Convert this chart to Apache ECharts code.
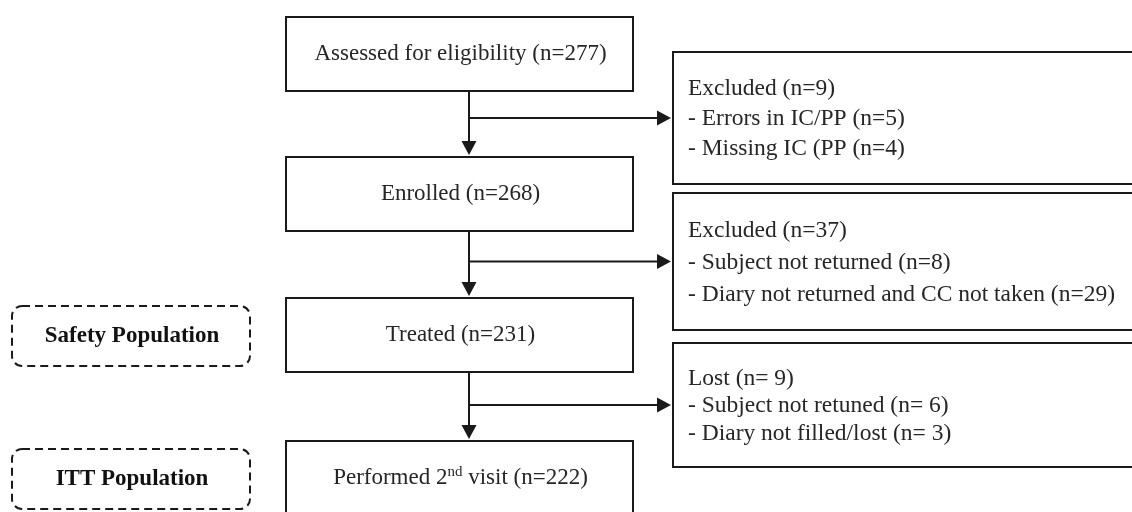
<!DOCTYPE html>
<html>
<head>
<meta charset="utf-8">
<script src="https://cdn.jsdelivr.net/npm/echarts@6/dist/echarts.min.js"></script>
<style>
html,body{margin:0;padding:0;background:#fff}
#chart{width:1132px;height:512px}
</style>
</head>
<body>
<div id="chart"></div>
<script>
// flow steps (main column)
var steps = ['Assessed for eligibility', 'Enrolled', 'Treated', 'Performed 2{sup|nd} visit'];
var stepCounts = [277, 268, 231, 222];
// side boxes: who dropped out between two steps
var exclTitles = ['Excluded (n=9)', 'Excluded (n=37)', 'Lost (n= 9)'];
var exclReasons = [
	['- Errors in IC/PP (n=5)', '- Missing IC (PP (n=4)'],
	['- Subject not returned (n=8)', '- Diary not returned and CC not taken (n=29)'],
	['- Subject not retuned (n= 6)', '- Diary not filled/lost (n= 3)']
];
// analysis populations, attached to a step row
var populations = ['Safety Population', 'ITT Population'];
var populationRows = [2, 3];

// layout in page units (axes are 0..1132 x 0..512)
var L = {
	mainX: 286, mainW: 347, boxH: 74,
	rowTop: [17, 157, 298, 441],
	spineX: 469,
	sideX: 673, sideRight: 1142,
	sideTop: [52, 193, 343], sideBottom: [184, 330, 467],
	sideLineH: [30, 32, 27.5],
	popX: 12, popW: 238, popH: 60,
	popTop: [306, 449],
	ink: '#1a1a1a',
	text: '#262626',
	font: 'Liberation Serif'
};

function rectOf(api, x0, y0, x1, y1) {
	var a = api.coord([x0, y0]);
	var b = api.coord([x1, y1]);
	return {x: a[0], y: a[1], width: b[0] - a[0], height: b[1] - a[1]};
}

function mainItem(params, api) {
	var i = params.dataIndex;
	var r = rectOf(api, L.mainX, L.rowTop[i], L.mainX + L.mainW, L.rowTop[i] + L.boxH);
	return {
		type: 'group',
		children: [
			{type: 'rect', shape: r, style: {fill: '#fff', stroke: L.ink, lineWidth: 2}},
			{type: 'text', style: {
				text: steps[i] + ' (n=' + stepCounts[i] + ')',
				x: r.x + r.width / 2 + 1, y: r.y + r.height / 2,
				align: 'center', verticalAlign: 'middle',
				fill: L.text, fontSize: 23, fontFamily: L.font,
				rich: {
					sup: {fontSize: 15, fontFamily: L.font, fill: L.text, verticalAlign: 'top', lineHeight: 27}
				}
			}}
		]
	};
}

function sideItem(params, api) {
	var i = params.dataIndex;
	var r = rectOf(api, L.sideX, L.sideTop[i], L.sideRight, L.sideBottom[i]);
	return {
		type: 'group',
		children: [
			{type: 'rect', shape: r, style: {fill: '#fff', stroke: L.ink, lineWidth: 2}},
			{type: 'text', style: {
				text: [exclTitles[i]].concat(exclReasons[i]).join('\n'),
				x: r.x + 15, y: r.y + r.height / 2 + 1,
				align: 'left', verticalAlign: 'middle',
				lineHeight: L.sideLineH[i],
				fill: L.text, fontSize: 23.5, fontFamily: L.font
			}}
		]
	};
}

function arrowItem(params, api) {
	var i = params.dataIndex;
	var top = api.coord([L.spineX, L.rowTop[i] + L.boxH]);
	var tip = api.coord([L.spineX, L.rowTop[i + 1] - 2]);
	var cy = (L.sideTop[i] + L.sideBottom[i]) / 2;
	var bStart = api.coord([L.spineX, cy]);
	var bTip = api.coord([L.sideX - 2, cy]);
	var ink = {stroke: L.ink, lineWidth: 2};
	return {
		type: 'group',
		children: [
			{type: 'line', shape: {x1: top[0], y1: top[1], x2: tip[0], y2: tip[1] - 12}, style: ink},
			{type: 'polygon', shape: {points: [[tip[0] - 7.5, tip[1] - 14], [tip[0] + 7.5, tip[1] - 14], [tip[0], tip[1]]]}, style: {fill: L.ink}},
			{type: 'line', shape: {x1: bStart[0], y1: bStart[1], x2: bTip[0] - 12, y2: bTip[1]}, style: ink},
			{type: 'polygon', shape: {points: [[bTip[0] - 14, bTip[1] - 7.5], [bTip[0] - 14, bTip[1] + 7.5], [bTip[0], bTip[1]]]}, style: {fill: L.ink}}
		]
	};
}

function popItem(params, api) {
	var i = params.dataIndex;
	var r = rectOf(api, L.popX, L.popTop[i], L.popX + L.popW, L.popTop[i] + L.popH);
	r.r = 10;
	return {
		type: 'group',
		children: [
			{type: 'rect', shape: r, style: {fill: 'none', stroke: L.ink, lineWidth: 2, lineDash: [8, 5]}},
			{type: 'text', style: {
				text: populations[i],
				x: r.x + r.width / 2 + 1, y: r.y + r.height / 2,
				align: 'center', verticalAlign: 'middle',
				fill: '#111', fontSize: 23, fontWeight: 'bold', fontFamily: L.font
			}}
		]
	};
}

var chart = echarts.init(document.getElementById('chart'));
var option = {
	animation: false,
	backgroundColor: '#fff',
	grid: {left: 0, right: 0, top: 0, bottom: 0},
	xAxis: {type: 'value', min: 0, max: 1132, show: false},
	yAxis: {type: 'value', min: 0, max: 512, inverse: true, show: false},
	series: [
		{type: 'custom', renderItem: arrowItem, data: exclTitles.map(function (t, i) { return [i, i]; })},
		{type: 'custom', renderItem: mainItem, data: steps.map(function (s, i) { return [i, i]; })},
		{type: 'custom', renderItem: sideItem, data: exclTitles.map(function (t, i) { return [i, i]; })},
		{type: 'custom', renderItem: popItem, data: populations.map(function (p, i) { return [i, populationRows[i]]; })}
	]
};
chart.setOption(option);
</script>
</body>
</html>
